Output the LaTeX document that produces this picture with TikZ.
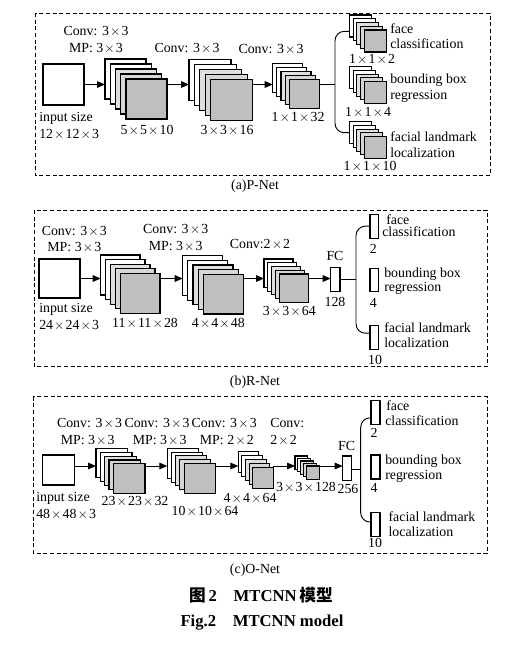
\documentclass[tikz,border=0pt]{standalone}
\usepackage{fontspec}
\setmainfont{Liberation Serif}
\newfontfamily\cjk{Noto Sans CJK SC}
\usetikzlibrary{arrows.meta}

% wide multiplication sign
\newcommand{\tms}{\kern0.08em$\times$\kern0.08em}

% a stack of five feature maps: name, x, y, width, height, step x, step y
\newcommand{\layers}[7]{%
  \foreach \i/\col in {0/white,1/white,2/gray!25,3/gray!32,4/gray!50}{
    \node[layer, fill=\col, minimum width=#4*0.75pt, minimum height=#5*0.75pt]
      (#1-\i) at ({#2+\i*#6+#4/2}, {#3+\i*#7+#5/2}) {};
  }
}

\begin{document}
\begin{tikzpicture}[x=0.75pt, y=-0.75pt,
  layer/.style={draw, line width=0.8pt, inner sep=0pt, outer sep=0pt},
  box/.style={layer, fill=white},
  wire/.style={line width=0.7pt},
  arr/.style={wire, -{Triangle[length=6pt, width=5pt]}},
  lbl/.style={inner sep=0pt, text height=1.5ex, text depth=0.25ex, font=\fontsize{10.4}{12}\selectfont},
  frame/.style={line width=0.6pt, dash pattern=on 3pt off 2pt}]
	\useasboundingbox (0,0) rectangle (510,645);

	% (a) P-Net
	\draw[frame] (35,13) rectangle (490,175.5);
	\coordinate (pa) at (0,84.5);
	\node[box, minimum width=30.75pt, minimum height=30.75pt] (pin) at (63.5,84.5) {};
	\layers{p1}{105}{59}{41}{40}{5.25}{5}
	\layers{p2}{189}{59.5}{42}{41}{5.4}{5}
	\layers{p3}{272.7}{63.3}{30}{29}{4.15}{4}
	\layers{po1}{349.3}{15}{22}{22}{3.75}{3.75}
	\layers{po2}{349.3}{66.7}{22}{22}{3.75}{3.75}
	\layers{po3}{349.3}{121.7}{22}{22}{3.75}{3.75}

	\draw[arr] (pin.east) -- (pin.east -| p1-0.west);
	\draw[arr] (p1-4.east |- pa) -- (pa -| p2-0.west);
	\draw[arr] (p2-4.east |- pa) -- (pa -| p3-0.west);
	\coordinate (pb) at (335,84.5);
	\draw[wire] (p3-4.east |- pa) -- (pb);
	\draw[wire, rounded corners=7pt] ([yshift=-4pt]po1-0.west) -| (pb) |- (po3-0.west);

	\node[lbl] (pc1) at (96,32) {Conv: 3\tms3};
	\node[lbl] (pm1) at (96,49) {MP: 3\tms3};
	\node[lbl] (pc2) at (187,49) {Conv: 3\tms3};
	\node[lbl] (pc3) at (271,50) {Conv: 3\tms3};
	\node[lbl, anchor=west] (pis) at (39,118) {input size};
	\node[lbl, anchor=west] (pid) at (39,135) {12\tms12\tms3};
	\node[lbl] (pd1) at (147,131) {5\tms5\tms10};
	\node[lbl] (pd2) at (227,131) {3\tms3\tms16};
	\node[lbl] (pd3) at (298,118) {1\tms1\tms32};
	\node[lbl, anchor=west] (pt1) at (390,30) {face};
	\node[lbl, anchor=west] (pt2) at (390,45) {classification};
	\node[lbl] (pn1) at (372,60) {1\tms1\tms2};
	\node[lbl, anchor=west] (pt3) at (390,80) {bounding box};
	\node[lbl, anchor=west] (pt4) at (390,96) {regression};
	\node[lbl] (pn2) at (368,113) {1\tms1\tms4};
	\node[lbl, anchor=west] (pt5) at (390,138) {facial landmark};
	\node[lbl, anchor=west] (pt6) at (390,154) {localization};
	\node[lbl] (pn3) at (370,167) {1\tms1\tms10};
	\node[lbl] (pcap) at (255,186) {(a)P-Net};

	% (b) R-Net
	\draw[frame] (34,210) rectangle (487.3,366.7);
	\coordinate (ra) at (0,278.5);
	\node[box, minimum width=30.75pt, minimum height=29.25pt] (rin) at (59.5,278.5) {};
	\layers{r1}{100.7}{255}{39.3}{40}{5}{4.6}
	\layers{r2}{182.7}{255.7}{40}{39.7}{5.15}{4.65}
	\layers{r3}{264}{259}{29}{28.3}{3.8}{3.75}
	\node[box, minimum width=7pt, minimum height=18.3pt] (rfc) at (335.3,279.5) {};
	\node[box, minimum width=6.3pt, minimum height=18.2pt] (ro1) at (374.2,226.2) {};
	\node[box, minimum width=6.3pt, minimum height=17.5pt] (ro2) at (374.2,280) {};
	\node[box, minimum width=6.3pt, minimum height=18.2pt] (ro3) at (374.2,337.2) {};

	\draw[arr] (rin.east |- ra) -- (ra -| r1-0.west);
	\draw[arr] (r1-4.east |- ra) -- (ra -| r2-0.west);
	\draw[arr] (r2-4.east |- ra) -- (ra -| r3-0.west);
	\draw[arr] (r3-4.east |- ra) -- (ra -| rfc.west);
	\coordinate (rb) at (356,279.5);
	\draw[wire] (rfc.east) -- (rb);
	\draw[wire, rounded corners=7pt] (ro1.west) -| (rb) |- ([yshift=3pt]ro3.west);

	\node[lbl] (rc1) at (74.3,231.7) {Conv: 3\tms3};
	\node[lbl] (rm1) at (74.3,247.7) {MP: 3\tms3};
	\node[lbl] (rc2) at (175.7,230) {Conv: 3\tms3};
	\node[lbl] (rm2) at (175.7,246.7) {MP: 3\tms3};
	\node[lbl] (rc3) at (260,245) {Conv:2\tms2};
	\node[lbl, anchor=west] (ris) at (39,309) {input size};
	\node[lbl, anchor=west] (rid) at (39,326) {24\tms24\tms3};
	\node[lbl] (rd1) at (145,324) {11\tms11\tms28};
	\node[lbl] (rd2) at (218.3,324) {4\tms4\tms48};
	\node[lbl] (rd3) at (289.3,311.7) {3\tms3\tms64};
	\node[lbl] (rfct) at (335,256.7) {FC};
	\node[lbl] (rfcn) at (335,302.3) {128};
	\node[lbl, anchor=west] (rt1) at (386,220.7) {face};
	\node[lbl, anchor=west] (rt2) at (382,232.7) {classification};
	\node[lbl] (rn1) at (373.3,250) {2};
	\node[lbl, anchor=west] (rt3) at (384,273.3) {bounding box};
	\node[lbl, anchor=west] (rt4) at (384,287.3) {regression};
	\node[lbl] (rn2) at (373.3,303.3) {4};
	\node[lbl, anchor=west] (rt5) at (384,328.3) {facial landmark};
	\node[lbl, anchor=west] (rt6) at (384,343.3) {localization};
	\node[lbl] (rn3) at (375,360.7) {10};
	\node[lbl] (rcap) at (255,381.5) {(b)R-Net};

	% (c) O-Net
	\draw[frame] (33.3,396.7) rectangle (487.3,553.3);
	\coordinate (oa) at (0,466);
	\node[box, minimum width=23.7pt, minimum height=22.5pt] (oin) at (58.5,470) {};
	\layers{o1}{96}{448.3}{31.7}{29.3}{4.33}{3.9}
	\layers{o2}{167.3}{448.3}{31}{30}{4.2}{3.75}
	\layers{o3}{238.3}{451.7}{20.6}{21}{3.6}{3.9}
	\layers{o4}{295}{456}{12.6}{13.3}{2.9}{2.5}
	\node[box, minimum width=6.75pt, minimum height=18.5pt] (ofc) at (347.2,468.3) {};
	\node[box, minimum width=6.75pt, minimum height=17.7pt] (oo1) at (375.5,412.5) {};
	\node[box, minimum width=6.75pt, minimum height=18pt] (oo2) at (375.5,467) {};
	\node[box, minimum width=6.75pt, minimum height=18pt] (oo3) at (375.5,524.7) {};

	\draw[arr] (oin.east |- oa) -- (oa -| o1-0.west);
	\draw[arr] (o1-4.east |- oa) -- (oa -| o2-0.west);
	\draw[arr] (o2-4.east |- oa) -- (oa -| o3-0.west);
	\draw[arr] (o3-4.east |- oa) -- (oa -| o4-0.west);
	\draw[arr] (o4-4.east |- oa) -- (oa -| ofc.west);
	\coordinate (ob) at (360.7,469);
	\draw[wire] (ofc.east |- ob) -- (ob);
	\draw[wire, rounded corners=7pt] ([yshift=-4pt]oo1.west) -| (ob) |- ([yshift=2pt]oo3.west);

	\node[lbl] (oc1) at (89.5,423.3) {Conv: 3\tms3};
	\node[lbl] (oc2) at (157,423.3) {Conv: 3\tms3};
	\node[lbl] (oc3) at (224.2,423.3) {Conv: 3\tms3};
	\node[lbl, anchor=west] (oc4) at (270,423.3) {Conv:};
	\node[lbl] (om1) at (87.7,440.7) {MP: 3\tms3};
	\node[lbl] (om2) at (159.7,440.7) {MP: 3\tms3};
	\node[lbl] (om3) at (226.8,440.7) {MP: 2\tms2};
	\node[lbl, anchor=west] (om4) at (270,440.7) {2\tms2};
	\node[lbl, anchor=west] (ois) at (36,497.3) {input size};
	\node[lbl, anchor=west] (oid) at (36,515) {48\tms48\tms3};
	\node[lbl] (od1) at (135,501.7) {23\tms23\tms32};
	\node[lbl] (od2) at (205,511.7) {10\tms10\tms64};
	\node[lbl] (od3) at (250,498.3) {4\tms4\tms64};
	\node[lbl] (od4) at (306,487.3) {3\tms3\tms128};
	\node[lbl] (ofcn) at (348,490) {256};
	\node[lbl] (ofct) at (346.7,446.7) {FC};
	\node[lbl, anchor=west] (ot1) at (386,406.7) {face};
	\node[lbl, anchor=west] (ot2) at (385,421.7) {classification};
	\node[lbl] (on1) at (374,434) {2};
	\node[lbl, anchor=west] (ot3) at (385,461) {bounding box};
	\node[lbl, anchor=west] (ot4) at (385,476) {regression};
	\node[lbl] (on2) at (374,488.3) {4};
	\node[lbl, anchor=west] (ot5) at (388.3,517.7) {facial landmark};
	\node[lbl, anchor=west] (ot6) at (388.3,532.7) {localization};
	\node[lbl] (on3) at (375,544) {10};
	\node[lbl] (ocap) at (255,570) {(c)O-Net};

	% caption
	\node[font=\fontsize{12.5}{14}\selectfont\bfseries] (cap1) at (261,595) {{\cjk 图}\,2\quad MTCNN\,{\cjk 模型}};
	\node[font=\fontsize{12.5}{14}\selectfont\bfseries] (cap2) at (262,623) {Fig.2\quad MTCNN model};
\end{tikzpicture}
\end{document}
